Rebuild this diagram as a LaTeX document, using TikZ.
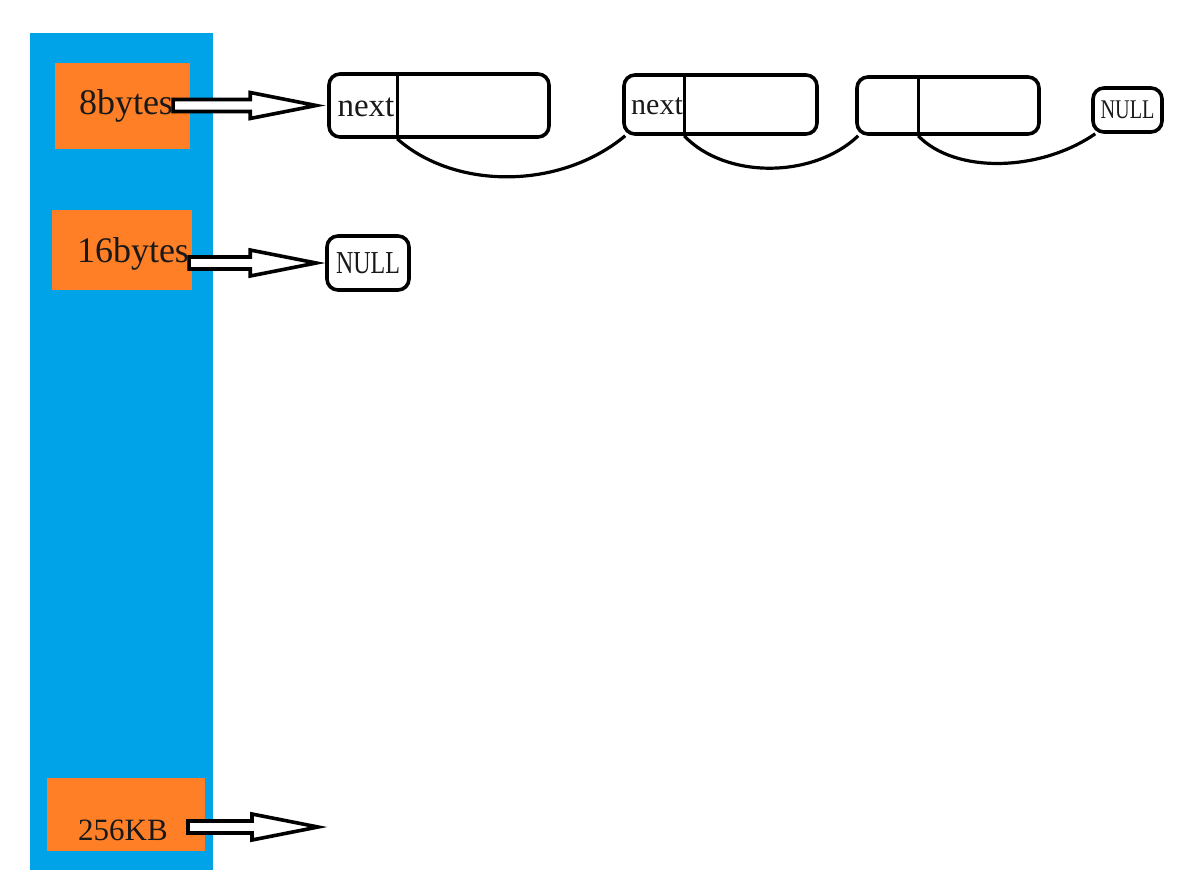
\documentclass[tikz,border=0pt]{standalone}
\usepackage{fontspec}
\setmainfont{Liberation Serif}
\usetikzlibrary{positioning,calc}
\definecolor{poolblue}{RGB}{0,162,232}
\definecolor{binorange}{RGB}{255,127,39}

\begin{document}
\begin{tikzpicture}[
  x=1pt, y=-1pt,
  pool/.style={fill=poolblue, inner sep=0pt, minimum width=183pt, minimum height=837pt},
  bin/.style={fill=binorange, inner sep=0pt},
  lbl/.style={inner sep=0pt, text=black!90},
  obj/.style={draw, line width=3.6pt, rounded corners=11pt, inner sep=0pt, text=black!90},
  lnk/.style={line width=3.2pt},
  blk/.style={draw, line width=3.6pt, fill=white, line join=miter,
    to path={let \p1=(\tikztostart), \p2=(\tikztotarget) in
      (\x1,\y2+6pt) -- (\x2-66pt,\y2+6pt) -- (\x2-66pt,\y2+13pt) -- (\x2,\y2)
      -- (\x2-66pt,\y2-13pt) -- (\x2-66pt,\y2-6pt) -- (\x1,\y2-6pt) -- cycle}}
]
  \useasboundingbox (0,0) rectangle (1183,894);

  \node[pool] (pool) at (121.5,451.5) {};
  \node[bin, minimum width=135pt, minimum height=86pt] (b8) at (122.5,106) {};
  \node[bin, minimum width=140pt, minimum height=80pt] (b16) at (122,250) {};
  \node[bin, minimum width=158pt, minimum height=73pt] (b256) at (126,814.5) {};

  \node[lbl, font=\fontsize{36}{40}\selectfont] (l8) at (126,106) {8bytes};
  \node[lbl, font=\fontsize{36}{40}\selectfont] (l16) at (133,254) {16bytes};
  \node[lbl, font=\fontsize{31}{34}\selectfont] (l256) at (123,830) {256KB};

  \node[obj, minimum width=220pt, minimum height=63pt] (n1) at (439,105.5) {};
  \node[obj, minimum width=193pt, minimum height=59pt] (n2) at (720.5,104.5) {};
  \node[obj, minimum width=182pt, minimum height=57pt] (n3) at (948,105.5) {};
  \node[obj, minimum width=69pt, minimum height=44pt, font=\fontsize{27}{30}\selectfont] (nul) at (1127.5,110) {\scalebox{0.75}[1]{NULL}};
  \node[obj, minimum width=82pt, minimum height=54pt, font=\fontsize{32}{36}\selectfont] (nul16) at (368,263) {\scalebox{0.75}[1]{NULL}};

  \draw[lnk] ([xshift=70pt]n1.north west) -- ([xshift=70pt]n1.south west) coordinate (d1);
  \draw[lnk] ([xshift=62pt]n2.north west) -- ([xshift=62pt]n2.south west) coordinate (d2);
  \draw[lnk] ([xshift=63pt]n3.north west) -- ([xshift=63pt]n3.south west) coordinate (d3);

  \node[lbl, font=\fontsize{33}{36}\selectfont] (t1) at (366,107) {next};
  \node[lbl, font=\fontsize{30}{33}\selectfont] (t2) at (657,106) {next};

  \draw[lnk] (d1) .. controls (455,190) and (560,190) .. ([xshift=3pt]n2.south west);
  \draw[lnk] (d2) .. controls (725,179) and (813,179) .. ([xshift=3pt]n3.south west);
  \draw[lnk] (d3) .. controls (955,174) and (1040,172) .. ([xshift=4pt]nul.south west);

  \coordinate (end256) at (318,827);
  \draw[blk] (l8.east) to ([xshift=-11pt]n1.west);
  \draw[blk] (l16.east) to ([xshift=-9pt]nul16.west);
  \draw[blk] ([xshift=20pt]l256.east) to (end256);
\end{tikzpicture}
\end{document}
